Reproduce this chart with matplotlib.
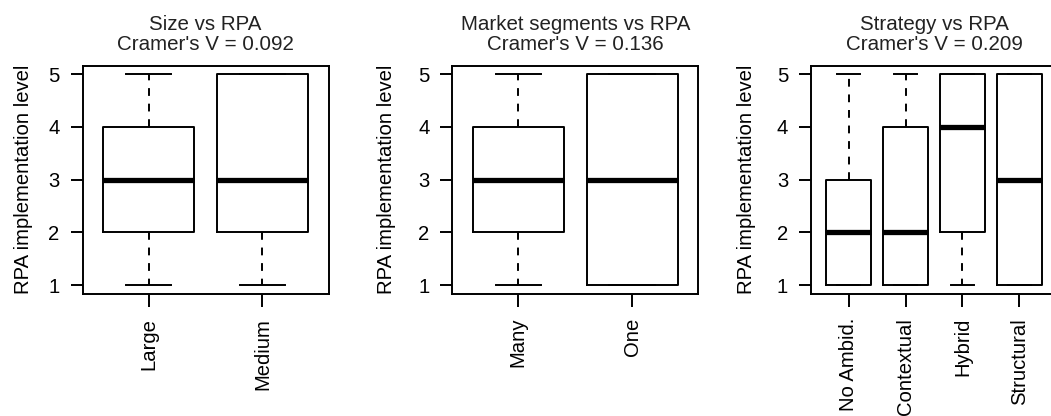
import matplotlib
matplotlib.use("Agg")
import matplotlib.pyplot as plt

plt.rcParams['font.family'] = ['Liberation Sans', 'DejaVu Sans']

# Five-number summaries of RPA implementation level per group
size_groups = ["Large", "Medium"]
size_whislo = [1, 1]
size_q1 = [2, 2]
size_med = [3, 3]
size_q3 = [4, 5]
size_whishi = [5, 5]

market_groups = ["Many", "One"]
market_whislo = [1, 1]
market_q1 = [2, 1]
market_med = [3, 3]
market_q3 = [4, 5]
market_whishi = [5, 5]

strategy_groups = ["No Ambid.", "Contextual", "Hybrid", "Structural"]
strategy_whislo = [1, 1, 1, 1]
strategy_q1 = [1, 1, 2, 1]
strategy_med = [2, 2, 4, 3]
strategy_q3 = [3, 4, 5, 5]
strategy_whishi = [5, 5, 5, 5]

titles = ["Size vs RPA\nCramer's V = 0.092",
          "Market segments vs RPA\nCramer's V = 0.136",
          "Strategy vs RPA\nCramer's V = 0.209"]
y_ticks = [1, 2, 3, 4, 5]


def make_stats(labels, lo, q1, med, q3, hi):
    return [dict(label=l, whislo=a, q1=b, med=c, q3=d, whishi=e, fliers=[])
            for l, a, b, c, d, e in zip(labels, lo, q1, med, q3, hi)]


panels = [
    make_stats(size_groups, size_whislo, size_q1, size_med, size_q3, size_whishi),
    make_stats(market_groups, market_whislo, market_q1, market_med, market_q3, market_whishi),
    make_stats(strategy_groups, strategy_whislo, strategy_q1, strategy_med, strategy_q3, strategy_whishi),
]

W, H = 1051, 416
fig = plt.figure(figsize=(W / 100, H / 100), dpi=100)
fig.patch.set_facecolor("white")

lefts_px = [82.5, 452.3, 811.0]
width_px = 246.0
bottom_px, top_px = 293.5, 65.7
ylabel_x = [-0.24, -0.268, -0.262]

LW = 1.4
FS = 14.6

for i, stats in enumerate(panels):
    ax = fig.add_axes([lefts_px[i] / W, 1 - bottom_px / H,
                       width_px / W, (bottom_px - top_px) / H])
    n = len(stats)
    ax.bxp(stats, positions=range(1, n + 1), widths=0.8, showfliers=False,
           boxprops=dict(color="black", linewidth=LW),
           medianprops=dict(color="black", linewidth=3.8, solid_capstyle="butt"),
           whiskerprops=dict(color="black", linewidth=LW, linestyle=(0, (4, 4))),
           capprops=dict(color="black", linewidth=LW),
           capwidths=0.4)
    ext = 0.04 * n
    ax.set_xlim(0.5 - ext, n + 0.5 + ext)
    ax.set_ylim(0.84, 5.16)
    ax.set_yticks(y_ticks)
    ax.set_yticklabels([str(v) for v in y_ticks], fontsize=FS)
    ax.set_xticks(range(1, n + 1))
    ax.set_xticklabels([s["label"] for s in stats], rotation=90, fontsize=FS)
    ax.tick_params(axis="both", direction="out", length=9, width=LW, color="black")
    ax.tick_params(axis="y", pad=7.5)
    ax.tick_params(axis="x", pad=8.5)
    for sp in ax.spines.values():
        sp.set_linewidth(LW)
        sp.set_color("black")
    ax.set_title(titles[i], fontsize=FS + 0.2, pad=11, color="#222222", linespacing=1.12)
    ax.set_ylabel("RPA implementation level", fontsize=FS, va="center")
    ax.yaxis.set_label_coords(ylabel_x[i], 0.5)

fig.savefig("out.png", dpi=100, facecolor="white")
